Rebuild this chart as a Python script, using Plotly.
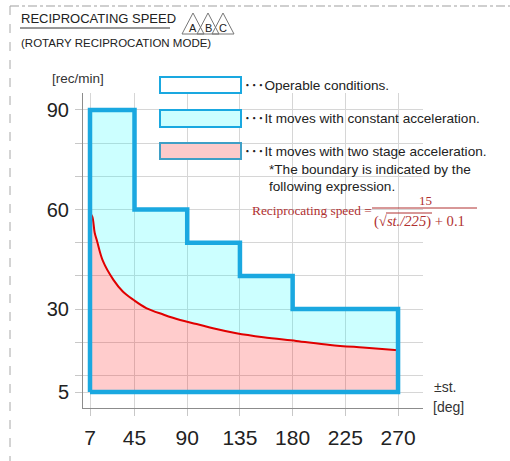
import plotly.graph_objects as go

# ---- data ----
step_x = [7, 7, 45, 45, 90, 90, 135, 135, 180, 180, 270, 270, 7]
step_y = [5, 90, 90, 60, 60, 50, 50, 40, 40, 30, 30, 5, 5]
curve_x = [7, 9, 11, 13, 18, 27, 35, 44, 55, 70, 84, 98, 112, 132, 155, 183, 212, 240, 270]
curve_y = [59, 57.8, 53, 50.5, 44.5, 38.8, 35.3, 32.8, 30.3, 28.3, 26.7, 25.5, 24.2, 22.7, 21.5, 20.4, 19.2, 18.4, 17.6]
x_ticks = [7, 45, 90, 135, 180, 225, 270]
y_grid = [5, 10, 20, 30, 40, 50, 60, 70, 80, 90]
y_labels = {5: "5", 30: "30", 60: "60", 90: "90"}

W, H = 510, 461
L, R, T, B = 83, 423, 93, 408  # plot area in px


def px(x):
    return (x - L) / (R - L)


def py(y):
    return (B - y) / (B - T)


BLUE = "#1aa8e0"
fig = go.Figure()

# cyan region: step outline top down to curve
top_x = step_x[1:11]
top_y = step_y[1:11]
cy_x = top_x + [curve_x[-1]] + curve_x[::-1]
cy_y = top_y + [curve_y[-1]] + curve_y[::-1]
fig.add_trace(go.Scatter(x=cy_x, y=cy_y, mode="lines", fill="toself",
                         fillcolor="rgba(0,255,255,0.2)", line=dict(width=0),
                         hoverinfo="skip", showlegend=False))
# red region: curve down to bottom
rd_x = curve_x + [270, 7, 7]
rd_y = curve_y + [5, 5, curve_y[0]]
fig.add_trace(go.Scatter(x=rd_x, y=rd_y, mode="lines", fill="toself",
                         fillcolor="rgba(255,0,0,0.2)", line=dict(width=0),
                         hoverinfo="skip", showlegend=False))
# red boundary curve
fig.add_trace(go.Scatter(x=curve_x, y=curve_y, mode="lines",
                         line=dict(color="#e00000", width=2, shape="spline"),
                         hoverinfo="skip", showlegend=False))
# blue outline
fig.add_trace(go.Scatter(x=step_x, y=step_y, mode="lines",
                         line=dict(color=BLUE, width=4.5),
                         hoverinfo="skip", showlegend=False))

shapes = []
ann = []

# frame dashes
shapes.append(dict(type="line", xref="paper", yref="paper", x0=px(10), x1=px(510), y0=py(6), y1=py(6),
                   line=dict(color="#cfcfcf", width=2, dash="dashdot")))
shapes.append(dict(type="line", xref="paper", yref="paper", x0=px(10), x1=px(10), y0=py(6), y1=py(461),
                   line=dict(color="#a8a8a8", width=1, dash="dash")))

# title
ann.append(dict(text="RECIPROCATING SPEED", x=px(19), y=py(19), xref="paper", yref="paper",
                xanchor="left", yanchor="middle", showarrow=False,
                font=dict(family="Liberation Sans", size=13.0, color="#222")))
shapes.append(dict(type="line", xref="paper", yref="paper", x0=px(20), x1=px(170), y0=py(28), y1=py(28),
                   line=dict(color="#333", width=1)))
for cx, letter in [(193, "A"), (208, "B"), (223, "C")]:
    shapes.append(dict(type="path", xref="paper", yref="paper",
                       path=f"M {px(cx-11)},{py(34)} L {px(cx)},{py(13)} L {px(cx+11)},{py(34)} Z",
                       line=dict(color="#777", width=1)))
    ann.append(dict(text=letter, x=px(cx), y=py(28), xref="paper", yref="paper", showarrow=False,
                    xanchor="center", yanchor="middle",
                    font=dict(family="Liberation Sans", size=11, color="#222")))
ann.append(dict(text="(ROTARY RECIPROCATION MODE)", x=px(19), y=py(43), xref="paper", yref="paper",
                xanchor="left", yanchor="middle", showarrow=False,
                font=dict(family="Liberation Sans", size=11.5, color="#222")))

# legend boxes
LFS = 13.6
boxes = [
    (77, 93, "white", BLUE, "･･･Operable conditions."),
    (110, 127, "#ccffff", BLUE, "･･･It moves with constant acceleration."),
    (143, 159, "#fccaca", "#3f9fc6", "･･･It moves with two stage acceleration."),
]
for y0, y1, fc, lc, txt in boxes:
    shapes.append(dict(type="rect", xref="paper", yref="paper", x0=px(160), x1=px(241), y0=py(y1), y1=py(y0),
                       fillcolor=fc, line=dict(color=lc, width=2)))
    ann.append(dict(text=txt, x=px(242), y=py((y0 + y1) / 2), xref="paper", yref="paper",
                    xanchor="left", yanchor="middle", showarrow=False,
                    font=dict(family="Liberation Sans, Noto Sans CJK JP", size=LFS, color="#222")))
ann.append(dict(text="*The boundary is indicated by the", x=px(267), y=py(169), xref="paper", yref="paper",
                xanchor="left", yanchor="middle", showarrow=False,
                font=dict(family="Liberation Sans", size=LFS, color="#222")))
ann.append(dict(text="following expression.", x=px(267), y=py(186), xref="paper", yref="paper",
                xanchor="left", yanchor="middle", showarrow=False,
                font=dict(family="Liberation Sans", size=LFS, color="#222")))

# formula
FRED = "#b03030"
SERIF = "Liberation Serif, DejaVu Serif"
ann.append(dict(text="Reciprocating speed =", x=px(250), y=py(210), xref="paper", yref="paper",
                xanchor="left", yanchor="middle", showarrow=False,
                font=dict(family=SERIF, size=13.4, color=FRED)))
ann.append(dict(text="15", x=px(425), y=py(200), xref="paper", yref="paper",
                xanchor="center", yanchor="middle", showarrow=False,
                font=dict(family=SERIF, size=13, color=FRED)))
shapes.append(dict(type="line", xref="paper", yref="paper", x0=px(372), x1=px(477), y0=py(208), y1=py(208),
                   line=dict(color=FRED, width=1)))
ann.append(dict(text="(√<i>st./225</i>) + 0.1", x=px(372), y=py(221), xref="paper", yref="paper",
                xanchor="left", yanchor="middle", showarrow=False,
                font=dict(family=SERIF, size=14.6, color=FRED)))
shapes.append(dict(type="line", xref="paper", yref="paper", x0=px(386), x1=px(432), y0=py(213), y1=py(213),
                   line=dict(color=FRED, width=1)))

# axis labels
ann.append(dict(text="[rec/min]", x=px(50), y=py(79), xref="paper", yref="paper",
                xanchor="left", yanchor="middle", showarrow=False,
                font=dict(family="Liberation Sans", size=13.5, color="#333")))
ann.append(dict(text="±st.", x=px(432), y=py(387), xref="paper", yref="paper",
                xanchor="left", yanchor="middle", showarrow=False,
                font=dict(family="Liberation Sans", size=14, color="#333")))
ann.append(dict(text="[deg]", x=px(431), y=py(407), xref="paper", yref="paper",
                xanchor="left", yanchor="middle", showarrow=False,
                font=dict(family="Liberation Sans", size=14, color="#333")))

fig.update_layout(
    width=W, height=H,
    margin=dict(l=L, r=W - R, t=T, b=H - B, pad=0),
    paper_bgcolor="white", plot_bgcolor="white",
    shapes=shapes, annotations=ann,
    xaxis=dict(range=[1.02, 291.3], tickvals=x_ticks, ticktext=[str(v) for v in x_ticks],
               showgrid=True, gridcolor="#d6d6d6", gridwidth=1, zeroline=False,
               showline=True, linecolor="#8c8c8c", linewidth=1,
               ticks="outside", ticklen=7, tickcolor="#c8c8c8", ticklabelstandoff=4,
               tickfont=dict(family="Liberation Sans", size=21, color="#222")),
    yaxis=dict(range=[0.18, 95.12], tickvals=y_grid, ticktext=[y_labels.get(v, "") for v in y_grid],
               showgrid=True, gridcolor="#d6d6d6", gridwidth=1, zeroline=False,
               showline=True, linecolor="#8c8c8c", linewidth=1,
               ticks="outside", ticklen=7, tickcolor="#c8c8c8", ticklabelstandoff=2,
               tickfont=dict(family="Liberation Sans", size=20, color="#222")),
)

fig.write_html("out.html", config={"displayModeBar": False},
               post_script="document.body.style.margin='0';")
